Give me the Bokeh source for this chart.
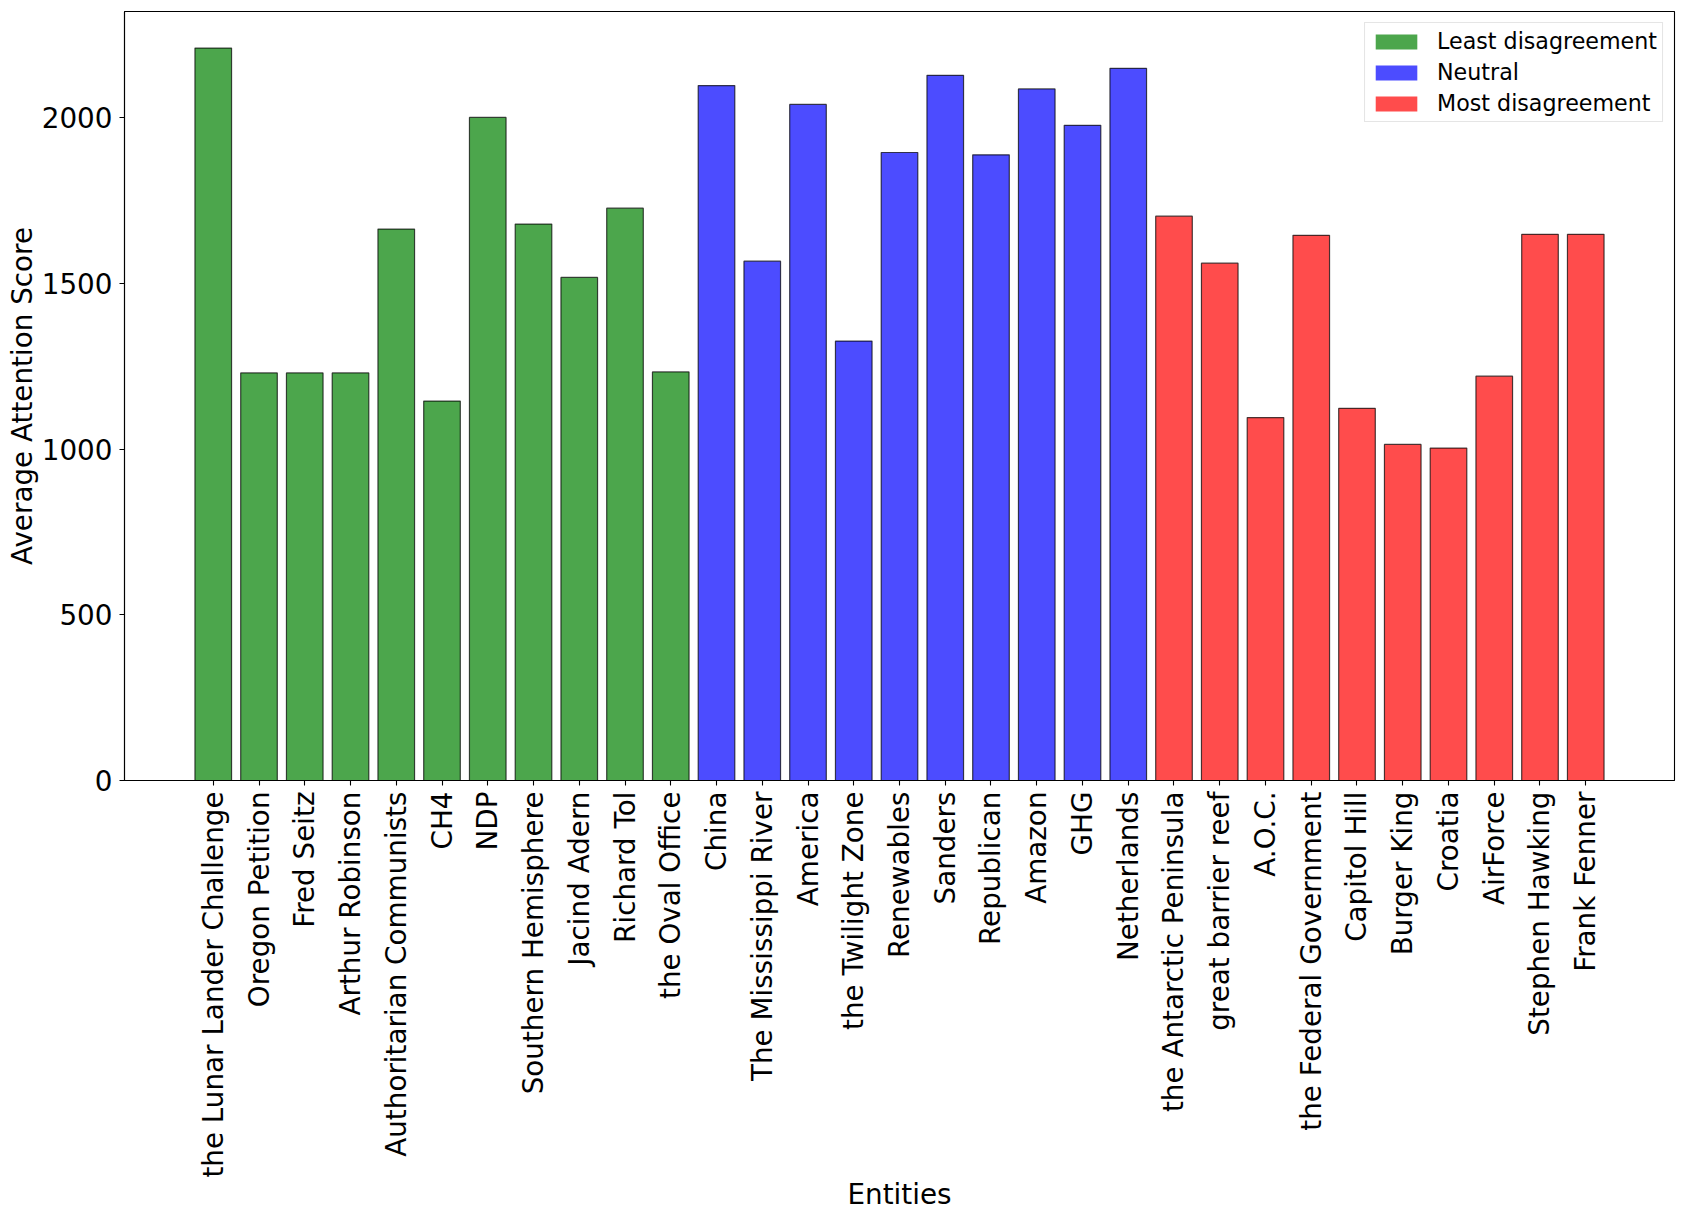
import math
from bokeh.plotting import figure
from bokeh.models import ColumnDataSource, Range1d, FixedTicker, Legend, LegendItem
from bokeh.embed import file_html
from bokeh.resources import INLINE

# ---- data ----
least_entities = ["the Lunar Lander Challenge", "Oregon Petition", "Fred Seitz", "Arthur Robinson",
                  "Authoritarian Communists", "CH4", "NDP", "Southern Hemisphere", "Jacind Adern",
                  "Richard Tol", "the Oval Office"]
least_scores = [2210, 1230, 1230, 1230, 1664, 1145, 2001, 1679, 1518, 1727, 1233]

neutral_entities = ["China", "The Mississippi River", "America", "the Twilight Zone", "Renewables",
                    "Sanders", "Republican", "Amazon", "GHG", "Netherlands"]
neutral_scores = [2097, 1567, 2040, 1326, 1895, 2128, 1888, 2087, 1977, 2149]

most_entities = ["the Antarctic Peninsula", "great barrier reef", "A.O.C.", "the Federal Government",
                 "Capitol Hill", "Burger King", "Croatia", "AirForce", "Stephen Hawking", "Frank Fenner"]
most_scores = [1703, 1561, 1095, 1645, 1123, 1014, 1003, 1220, 1648, 1648]

group_names = ["Least disagreement", "Neutral", "Most disagreement"]
group_colors = ["green", "blue", "red"]
y_ticks = [0, 500, 1000, 1500, 2000]

groups = [(least_entities, least_scores), (neutral_entities, neutral_scores), (most_entities, most_scores)]
all_entities = least_entities + neutral_entities + most_entities
all_scores = least_scores + neutral_scores + most_scores
n = len(all_entities)

FONT = "DejaVu Sans"

p = figure(frame_width=1550, frame_height=769,
           x_range=Range1d(-1.94, n - 1 + 1.94), y_range=Range1d(0, max(all_scores) * 1.05),
           output_backend="svg", toolbar_location=None,
           min_border_left=124, min_border_top=11, min_border_right=4, min_border_bottom=0)

p.background_fill_color = "white"
p.border_fill_color = "white"
p.outline_line_color = "black"
p.outline_line_width = 1.1
p.xgrid.visible = False
p.ygrid.visible = False

legend_items = []
start = 0
for (ents, vals), name, col in zip(groups, group_names, group_colors):
    xs = list(range(start, start + len(ents)))
    src = ColumnDataSource(dict(x=xs, top=vals, name=ents))
    r = p.vbar(x="x", top="top", bottom=0, width=0.8, source=src,
               fill_color=col, fill_alpha=0.7, line_color=None)
    p.vbar(x="x", top="top", bottom=0, width=0.8, source=src,
           fill_color=None, line_color="black", line_alpha=0.7, line_width=1.2)
    legend_items.append(LegendItem(label=name, renderers=[r]))
    start += len(ents)

# axes
p.xaxis.ticker = FixedTicker(ticks=list(range(n)))
p.xaxis.major_label_overrides = {i: e for i, e in enumerate(all_entities)}
p.xaxis.major_label_orientation = math.pi / 2
p.yaxis.ticker = FixedTicker(ticks=y_ticks)

for ax in (p.xaxis[0], p.yaxis[0]):
    ax.axis_line_color = "black"
    ax.axis_line_width = 1.1
    ax.major_tick_line_color = "black"
    ax.major_tick_line_width = 1.1
    ax.major_tick_out = 5
    ax.major_tick_in = 0
    ax.minor_tick_line_color = None
    ax.major_label_text_font = FONT
    ax.major_label_text_font_size = "27.8px"
    ax.major_label_text_color = "black"
    ax.axis_label_text_font = FONT
    ax.axis_label_text_font_size = "27.8px"
    ax.axis_label_text_font_style = "normal"
    ax.axis_label_text_color = "black"

p.xaxis.axis_label = "Entities"
p.yaxis.axis_label = "Average Attention Score"
p.xaxis.major_label_standoff = 6
p.xaxis.axis_label_standoff = -3
p.yaxis.major_label_standoff = 7
p.yaxis.axis_label_standoff = 0

legend = Legend(items=legend_items, location="top_right")
legend.label_text_font = FONT
legend.label_text_font_size = "22.2px"
legend.label_text_color = "black"
legend.glyph_width = 52
legend.glyph_height = 19
legend.label_height = 24
legend.label_standoff = 15
legend.spacing = 5
legend.padding = 5
legend.margin = 11
legend.border_line_color = "#cccccc"
legend.border_line_width = 1
legend.background_fill_color = "white"
legend.background_fill_alpha = 0.8
p.add_layout(legend)

open("out.html", "w").write(file_html(p, INLINE))
